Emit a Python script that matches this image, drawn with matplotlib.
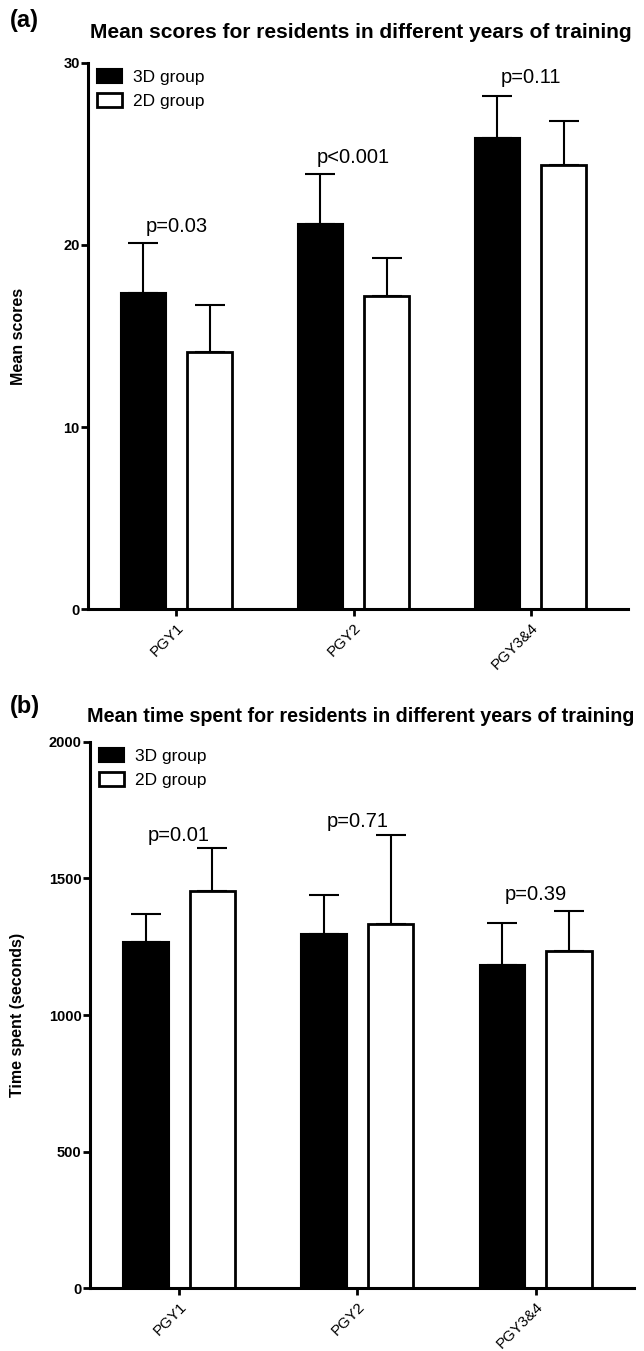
import matplotlib.pyplot as plt
import numpy as np
from matplotlib.patches import Patch

plt.rcParams["font.family"] = ["Liberation Sans", "DejaVu Sans"]

GROUPS = ["PGY1", "PGY2", "PGY3&4"]

# panel (a): mean scores
SCORE_3D = [17.35, 21.15, 25.9]
SCORE_3D_SD = [2.75, 2.75, 2.3]
SCORE_2D = [14.1, 17.2, 24.4]
SCORE_2D_SD = [2.6, 2.1, 2.4]
SCORE_P = ["p=0.03", "p<0.001", "p=0.11"]
SCORE_P_Y = [21.0, 24.8, 29.2]

# panel (b): time spent
TIME_3D = [1267, 1297, 1183]
TIME_3D_SD = [103, 143, 154]
TIME_2D = [1454, 1333, 1234]
TIME_2D_SD = [158, 326, 147]
TIME_P = ["p=0.01", "p=0.71", "p=0.39"]
TIME_P_Y = [1656, 1707, 1443]

W = 0.255
OFF = 0.187


def draw_panel(ax, v3, s3, v2, s2, pvals, py, ymax, yticks, ylabel, label_x):
    x = np.arange(len(GROUPS))
    ax.bar(x - OFF, v3, W, color="black", edgecolor="black", linewidth=1.5, zorder=2)
    ax.bar(x + OFF, v2, W, color="white", edgecolor="black", linewidth=2.0, zorder=2)
    for xs, v, s in [(x - OFF, v3, s3), (x + OFF, v2, s2)]:
        ax.errorbar(xs, v, yerr=[np.zeros(len(v)), s], fmt="none", ecolor="black",
                    elinewidth=1.5, capsize=11, capthick=1.5, zorder=1)
    for xi, t, yy in zip(x, pvals, py):
        ax.text(xi, yy, t, ha="center", va="center", fontsize=14.5)

    ax.set_xlim(-0.5, 2.55)
    ax.set_ylim(0, ymax)
    ax.set_yticks(yticks)
    ax.set_yticklabels([str(t) for t in yticks], fontsize=10.5, fontweight="bold")
    ax.set_xticks(x)
    ax.set_xticklabels(GROUPS, rotation=45, ha="right", rotation_mode="anchor",
                       fontsize=11)
    ax.spines["top"].set_visible(False)
    ax.spines["right"].set_visible(False)
    for side in ["left", "bottom"]:
        ax.spines[side].set_linewidth(2.2)
    ax.tick_params(axis="both", width=2, length=5, pad=1)
    ax.tick_params(axis="x", pad=3)
    ax.set_ylabel(ylabel, fontsize=11.5, fontweight="bold")
    ax.yaxis.set_label_coords(label_x, 0.5)

    handles = [Patch(facecolor="black", edgecolor="black", linewidth=1.5, label="3D group"),
               Patch(facecolor="white", edgecolor="black", linewidth=2, label="2D group")]
    ax.legend(handles=handles, loc="upper left", bbox_to_anchor=(-0.012, 1.018),
              frameon=False, fontsize=12.5, handlelength=1.45, handleheight=0.85,
              labelspacing=0.5, handletextpad=0.6)


fig = plt.figure(figsize=(6.44, 13.51), dpi=100)
ax1 = fig.add_axes([0.1366, 0.5492, 0.8384, 0.4042])
ax2 = fig.add_axes([0.1398, 0.0466, 0.8442, 0.4042])

draw_panel(ax1, SCORE_3D, SCORE_3D_SD, SCORE_2D, SCORE_2D_SD, SCORE_P, SCORE_P_Y,
           30, [0, 10, 20, 30], "Mean scores", -0.115)
draw_panel(ax2, TIME_3D, TIME_3D_SD, TIME_2D, TIME_2D_SD, TIME_P, TIME_P_Y,
           2000, [0, 500, 1000, 1500, 2000], "Time spent (seconds)", -0.12)

fig.text(10 / 644, 1 - 20 / 1351, "(a)", fontsize=17, fontweight="bold", va="center")
fig.text(361 / 644, 1 - 33 / 1351, "Mean scores for residents in different years of training",
         fontsize=15, fontweight="bold", ha="center", va="center")
fig.text(10 / 644, 1 - 706 / 1351, "(b)", fontsize=17, fontweight="bold", va="center")
fig.text(361 / 644, 1 - 716 / 1351, "Mean time spent for residents in different years of training",
         fontsize=14.2, fontweight="bold", ha="center", va="center")

fig.savefig("out.png", dpi=100)
